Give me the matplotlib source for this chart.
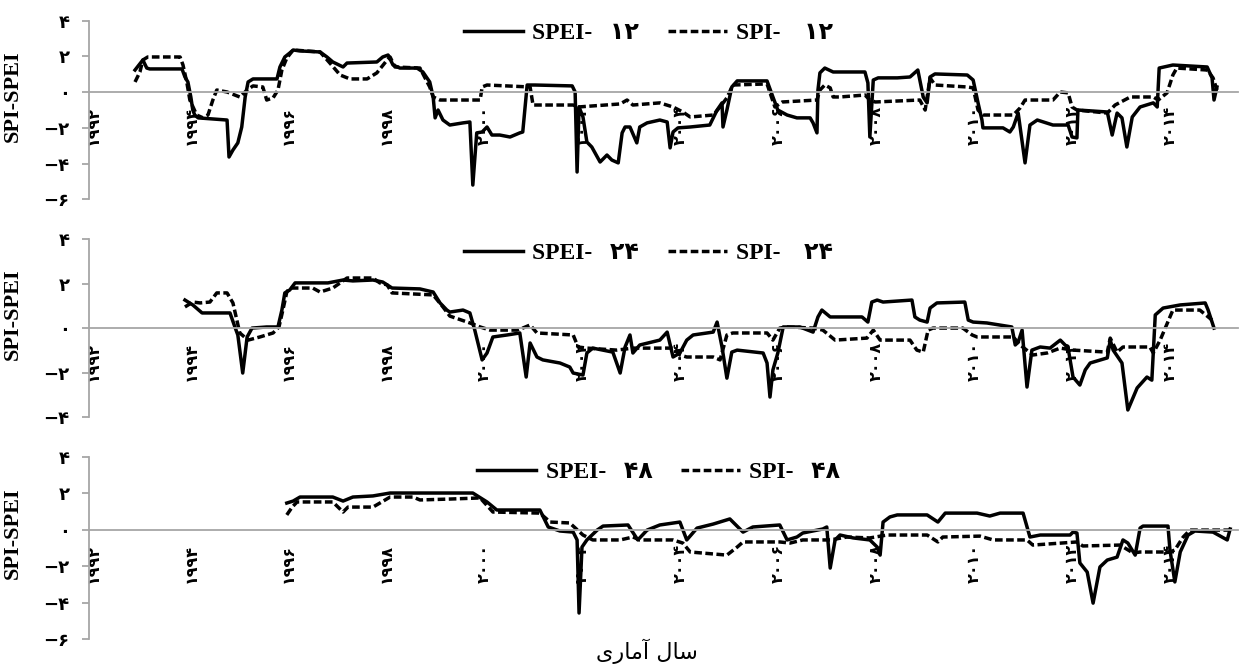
import matplotlib
matplotlib.use("Agg")
from matplotlib import pyplot as plt

# ---- panel 1 : 12-month scale ----
yr_spei12 = [1992.86, 1993.02, 1993.10, 1993.16, 1993.82, 1993.88, 1993.94, 1994.00, 1994.04, 1994.08,
             1994.15, 1994.74, 1994.78, 1994.86, 1994.96, 1995.04, 1995.11, 1995.17, 1995.27, 1995.76,
             1995.82, 1995.92, 1996.02, 1996.09, 1996.23, 1996.64, 1996.78, 1996.90, 1997.11, 1997.19,
             1997.80, 1997.92, 1998.03, 1998.13, 1998.27, 1998.62, 1998.74, 1998.88, 1998.95, 1998.99,
             1999.05, 1999.15, 1999.29, 1999.56, 1999.70, 1999.76, 1999.84, 1999.95, 2000.05, 2000.15,
             2000.31, 2000.52, 2000.72, 2000.78, 2000.87, 2001.03, 2001.79, 2001.85, 2001.89, 2001.93,
             2002.01, 2002.09, 2002.19, 2002.36, 2002.50, 2002.60, 2002.73, 2002.81, 2002.87, 2002.97,
             2003.11, 2003.17, 2003.32, 2003.58, 2003.73, 2003.79, 2003.85, 2003.95, 2004.20, 2004.60,
             2004.75, 2004.85, 2004.87, 2004.95, 2005.05, 2005.16, 2005.77, 2005.89, 2005.99, 2006.18,
             2006.38, 2006.65, 2006.71, 2006.79, 2006.81, 2006.85, 2006.95, 2007.12, 2007.77, 2007.83,
             2007.87, 2007.94, 2008.04, 2008.43, 2008.69, 2008.85, 2008.96, 2009.04, 2009.10, 2009.20,
             2009.86, 2009.98, 2010.08, 2010.16, 2010.18, 2010.59, 2010.73, 2010.80, 2010.90, 2011.04,
             2011.14, 2011.29, 2011.61, 2011.92, 2012.00, 2012.10, 2012.12, 2012.72, 2012.82, 2012.92,
             2013.02, 2013.12, 2013.23, 2013.39, 2013.66, 2013.74, 2013.78, 2014.06, 2014.76, 2014.86,
             2014.90, 2014.96]
spei12 = [1.24, 1.80, 1.35, 1.30, 1.30, 0.85, 0.57, -0.27, -1.00, -1.28,
          -1.44, -1.56, -3.63, -3.24, -2.84, -1.95, -0.27, 0.57, 0.74, 0.74,
          1.41, 1.97, 2.19, 2.36, 2.31, 2.25, 1.97, 1.69, 1.41, 1.63,
          1.69, 1.97, 2.08, 1.52, 1.35, 1.35, 1.13, 0.57, -0.27, -1.44,
          -1.00, -1.56, -1.84, -1.72, -1.67, -5.20, -2.28, -2.23, -1.95, -2.40,
          -2.40, -2.51, -2.28, -2.23, 0.40, 0.40, 0.35, 0.01, -4.47, -0.83,
          -1.39, -2.79, -3.07, -3.91, -3.52, -3.80, -3.96, -2.28, -1.95, -1.95,
          -2.84, -1.95, -1.72, -1.56, -1.67, -3.12, -2.23, -2.00, -1.95, -1.84,
          -1.00, -0.60, -1.95, -1.00, 0.29, 0.63, 0.63, -0.27, -1.00, -1.28,
          -1.44, -1.44, -1.72, -2.28, 0.12, 1.08, 1.35, 1.13, 1.13, 0.52,
          -2.51, 0.68, 0.80, 0.80, 0.85, 1.24, -0.27, -0.60, 0.85, 1.02,
          0.96, 0.68, -0.60, -1.56, -2.00, -2.00, -2.23, -1.95, -1.17, -3.96,
          -1.84, -1.56, -1.84, -1.84, -2.51, -2.56, -1.00, -1.11, -2.40, -1.17,
          -1.44, -3.07, -1.39, -0.83, -0.60, -0.83, 1.35, 1.52, 1.41, 0.80,
          -0.44, 0.29]

yr_spi12 = [1992.86, 1992.96, 1993.02, 1993.12, 1993.78, 1993.84, 1993.92, 1993.98, 1994.12, 1994.25,
            1994.35, 1994.45, 1994.53, 1994.74, 1995.00, 1995.15, 1995.27, 1995.47, 1995.55, 1995.68,
            1995.78, 1995.86, 1995.96, 1996.09, 1996.64, 1996.84, 1997.05, 1997.25, 1997.60, 1997.80,
            1998.01, 1998.07, 1998.17, 1998.68, 1998.88, 1998.95, 1999.09, 1999.91, 1999.95, 2000.05,
            2000.93, 2000.99, 2001.81, 2001.91, 2002.77, 2002.91, 2003.03, 2003.58, 2003.85, 2004.05,
            2004.20, 2004.67, 2004.81, 2004.95, 2005.07, 2005.77, 2005.93, 2006.08, 2006.79, 2006.85,
            2006.95, 2007.06, 2007.12, 2007.26, 2007.77, 2007.87, 2007.98, 2008.89, 2009.00, 2009.10,
            2009.20, 2009.86, 2009.98, 2010.08, 2010.18, 2010.80, 2010.94, 2011.04, 2011.61, 2011.76,
            2011.92, 2012.00, 2012.10, 2012.72, 2012.88, 2013.19, 2013.66, 2013.76, 2013.94, 2014.06,
            2014.14, 2014.76, 2014.88, 2014.96]
spi12 = [0.57, 1.13, 1.80, 1.97, 1.97, 1.52, 0.52, -0.44, -1.28, -1.44,
         -1.28, -0.44, 0.12, 0.01, -0.27, 0.12, 0.35, 0.29, -0.44, -0.32,
         0.12, 1.24, 1.91, 2.36, 2.25, 1.63, 0.96, 0.74, 0.74, 1.08,
         1.80, 1.97, 1.41, 1.35, 0.29, -0.27, -0.44, -0.44, 0.29, 0.40,
         0.29, -0.72, -0.72, -0.83, -0.66, -0.44, -0.72, -0.60, -0.83, -1.11,
         -1.39, -1.28, -0.83, -0.32, 0.40, 0.46, -0.83, -0.55, -0.44, 0.12,
         0.40, 0.24, -0.27, -0.27, -0.16, -0.44, -0.55, -0.44, -1.00, 0.80,
         0.40, 0.29, 0.24, -1.00, -1.28, -1.28, -0.88, -0.44, -0.44, 0.01,
         -0.04, -0.83, -1.00, -1.17, -0.72, -0.27, -0.27, -0.44, -0.04, 0.96,
         1.35, 1.24, 0.80, 0.12]

# ---- panel 2 : 24-month scale ----
yr_spei24 = [1993.88, 1994.04, 1994.23, 1994.80, 1994.90, 1994.96, 1995.06, 1995.15, 1995.25, 1995.55,
             1995.78, 1995.86, 1995.92, 1996.02, 1996.13, 1996.80, 1997.11, 1997.31, 1997.72, 1997.92,
             1998.11, 1998.68, 1998.95, 1999.09, 1999.23, 1999.29, 1999.56, 1999.70, 1999.80, 1999.95,
             2000.05, 2000.17, 2000.46, 2000.72, 2000.85, 2000.93, 2001.07, 2001.19, 2001.54, 2001.74,
             2001.81, 2002.01, 2002.09, 2002.21, 2002.62, 2002.77, 2002.87, 2002.97, 2003.03, 2003.17,
             2003.58, 2003.73, 2003.85, 2003.99, 2004.13, 2004.26, 2004.67, 2004.75, 2004.85, 2004.95,
             2005.05, 2005.16, 2005.69, 2005.77, 2005.83, 2005.89, 2005.99, 2006.10, 2006.44, 2006.71,
             2006.81, 2006.89, 2007.06, 2007.71, 2007.83, 2007.91, 2008.02, 2008.14, 2008.73, 2008.79,
             2008.89, 2009.04, 2009.10, 2009.24, 2009.81, 2009.88, 2009.98, 2010.26, 2010.77, 2010.84,
             2010.90, 2010.98, 2011.08, 2011.18, 2011.35, 2011.55, 2011.76, 2011.92, 2012.02, 2012.16,
             2012.27, 2012.37, 2012.72, 2012.78, 2012.84, 2013.02, 2013.14, 2013.33, 2013.53, 2013.63,
             2013.70, 2013.86, 2014.21, 2014.72, 2014.78, 2014.90]
spei24 = [1.27, 1.05, 0.69, 0.69, 0.06, -0.30, -2.01, -0.39, 0.01, 0.06,
          0.06, 0.82, 1.59, 1.72, 2.04, 2.04, 2.17, 2.13, 2.17, 2.08,
          1.81, 1.77, 1.63, 1.14, 0.82, 0.73, 0.82, 0.69, -0.08, -1.42,
          -1.11, -0.39, -0.30, -0.21, -2.19, -0.66, -1.29, -1.42, -1.56, -1.74,
          -2.01, -2.10, -1.11, -0.89, -1.07, -2.01, -0.84, -0.30, -1.11, -0.75,
          -0.53, -0.17, -1.29, -1.11, -0.53, -0.30, -0.17, 0.28, -0.84, -2.24,
          -1.07, -0.98, -1.11, -1.56, -3.09, -1.87, -1.11, 0.06, 0.06, -0.17,
          0.51, 0.82, 0.51, 0.51, 0.28, 1.18, 1.27, 1.18, 1.27, 0.51,
          0.37, 0.28, 0.91, 1.14, 1.18, 0.37, 0.28, 0.24, 0.06, -0.75,
          -0.62, -0.08, -2.64, -0.98, -0.84, -0.89, -0.53, -0.89, -2.19, -2.55,
          -1.87, -1.56, -1.33, -0.53, -0.98, -1.56, -3.67, -2.68, -2.19, -2.33,
          0.60, 0.91, 1.05, 1.14, 0.82, 0.01]

yr_spi24 = [1993.88, 1994.04, 1994.19, 1994.39, 1994.53, 1994.74, 1994.86, 1994.94, 1995.00, 1995.17,
            1995.41, 1995.68, 1995.80, 1995.88, 1995.96, 1996.02, 1996.49, 1996.64, 1996.90, 1997.05,
            1997.19, 1997.72, 1997.86, 1998.01, 1998.11, 1998.95, 1999.15, 1999.29, 1999.70, 1999.91,
            2000.11, 2000.66, 2000.78, 2000.93, 2001.07, 2001.81, 2001.91, 2002.09, 2002.70, 2003.03,
            2003.85, 2003.99, 2004.13, 2004.67, 2004.81, 2004.95, 2005.07, 2005.77, 2005.89, 2006.03,
            2006.18, 2006.71, 2006.91, 2007.16, 2007.81, 2007.94, 2008.08, 2008.69, 2008.83, 2008.96,
            2009.06, 2009.16, 2009.77, 2009.96, 2010.06, 2010.80, 2010.94, 2011.20, 2011.49, 2011.76,
            2012.02, 2012.72, 2012.78, 2012.92, 2013.04, 2013.59, 2013.66, 2013.80, 2014.00, 2014.06,
            2014.61, 2014.86]
spi24 = [0.96, 1.18, 1.14, 1.18, 1.59, 1.59, 1.14, 0.37, -0.21, -0.53,
         -0.39, -0.21, 0.06, 0.82, 1.63, 1.81, 1.81, 1.63, 1.81, 2.04,
         2.26, 2.26, 2.04, 1.95, 1.59, 1.50, 0.96, 0.55, 0.24, 0.06,
         -0.08, -0.08, 0.01, 0.15, -0.21, -0.30, -0.84, -0.89, -0.98, -0.89,
         -0.89, -1.20, -1.29, -1.29, -1.42, -0.30, -0.21, -0.21, -0.53, 0.01,
         0.06, 0.01, -0.08, -0.53, -0.44, -0.08, -0.53, -0.53, -0.98, -1.07,
         -0.08, 0.01, 0.01, -0.30, -0.39, -0.39, -0.75, -1.20, -1.11, -0.89,
         -0.98, -1.07, -0.44, -1.07, -0.84, -0.84, -1.11, -0.53, 0.51, 0.82,
         0.82, 0.37]

# ---- panel 3 : 48-month scale ----
yr_spei48 = [1995.96, 1996.09, 1996.23, 1996.90, 1997.11, 1997.31, 1997.72, 1998.07, 1998.68, 1999.76,
             2000.05, 2000.25, 2001.13, 2001.30, 2001.54, 2001.81, 2001.89, 2001.93, 2001.99, 2002.09,
             2002.30, 2002.42, 2002.93, 2003.13, 2003.32, 2003.58, 2003.99, 2004.13, 2004.34, 2004.67,
             2005.01, 2005.28, 2005.48, 2006.03, 2006.18, 2006.38, 2006.50, 2006.91, 2006.99, 2007.06,
             2007.16, 2007.26, 2007.53, 2007.87, 2008.02, 2008.08, 2008.14, 2008.28, 2008.43, 2009.04,
             2009.26, 2009.41, 2010.06, 2010.32, 2010.53, 2011.00, 2011.14, 2011.35, 2011.96, 2012.02,
             2012.10, 2012.16, 2012.31, 2012.43, 2012.57, 2012.72, 2012.92, 2013.04, 2013.14, 2013.29,
             2013.39, 2013.45, 2013.96, 2014.00, 2014.10, 2014.21, 2014.37, 2014.51, 2014.88, 2015.17,
             2015.23]
spei48 = [1.46, 1.57, 1.79, 1.79, 1.57, 1.79, 1.85, 2.01, 2.01, 2.01,
          1.52, 1.08, 1.08, 0.15, -0.07, -0.13, -0.56, -4.56, -0.95, -0.56,
          -0.02, 0.20, 0.26, -0.56, -0.02, 0.26, 0.42, -0.56, 0.09, 0.31,
          0.59, -0.13, 0.15, 0.26, -0.56, -0.40, -0.18, 0.04, 0.15, -2.10,
          -0.56, -0.29, -0.45, -0.56, -0.95, -1.39, 0.42, 0.70, 0.81, 0.81,
          0.42, 0.91, 0.91, 0.75, 0.91, 0.91, -0.40, -0.29, -0.29, -0.13,
          -0.18, -1.82, -2.32, -4.02, -2.04, -1.66, -1.50, -0.56, -0.73, -1.39,
          0.09, 0.20, 0.20, -1.11, -2.86, -1.22, -0.29, -0.07, -0.13, -0.56,
          0.04]

yr_spi48 = [1995.96, 1996.07, 1996.17, 1996.90, 1997.11, 1997.21, 1997.72, 1997.90, 1998.07, 1998.54,
            1998.68, 1999.29, 1999.91, 2000.17, 2001.13, 2001.34, 2001.74, 2002.01, 2002.21, 2002.77,
            2003.03, 2003.17, 2003.85, 2004.05, 2004.20, 2004.95, 2005.16, 2005.28, 2006.03, 2006.24,
            2006.50, 2007.06, 2007.40, 2007.87, 2008.22, 2009.04, 2009.26, 2009.36, 2010.12, 2010.39,
            2011.08, 2011.20, 2012.10, 2012.22, 2012.98, 2013.25, 2013.39, 2014.00, 2014.10, 2014.27,
            2014.41, 2015.02, 2015.23]
spi48 = [0.81, 1.24, 1.52, 1.52, 0.97, 1.24, 1.24, 1.52, 1.79, 1.79,
         1.63, 1.68, 1.74, 0.97, 0.91, 0.42, 0.37, -0.29, -0.56, -0.56,
         -0.40, -0.56, -0.56, -0.73, -1.22, -1.39, -0.95, -0.67, -0.67, -0.73,
         -0.56, -0.56, -0.40, -0.45, -0.29, -0.29, -0.67, -0.40, -0.35, -0.56,
         -0.56, -0.84, -0.67, -0.89, -0.84, -1.28, -1.22, -1.22, -1.11, -0.40,
         -0.02, -0.02, -0.02]

year_ticks = [1992, 1994, 1996, 1998, 2000, 2002, 2004, 2006, 2008, 2010, 2012, 2014]
year_labels = ["۱۹۹۲", "۱۹۹۴", "۱۹۹۶", "۱۹۹۸", "۲۰۰۰", "۲۰۰۲",
               "۲۰۰۴", "۲۰۰۶", "۲۰۰۸", "۲۰۱۰", "۲۰۱۲", "۲۰۱۴"]
yticks_a = [4, 2, 0, -2, -4, -6]
ylabels_a = ["۴", "۲", "۰", "−۲", "−۴", "−۶"]
yticks_b = [4, 2, 0, -2, -4]
ylabels_b = ["۴", "۲", "۰", "−۲", "−۴"]

# "سال آماری" written with presentation forms, visual order (no shaping in matplotlib)
xtitle = "\uFEEF\uFEAD\uFE8E\uFEE3\uFE81 \uFEDD\uFE8E\uFEB3"

GRAY = "#a6a6a6"
SERIF = ["Liberation Serif", "DejaVu Sans"]


def draw_panel(ax, xa, ya, xb, yb, lab_a, lab_b, ylim, yt, ytl, leg_xy):
    ax.plot(xa, ya, color="black", lw=2.5, label=lab_a)
    ax.plot(xb, yb, color="black", lw=2.5, linestyle=(0, (2.2, 1.0)), label=lab_b)
    ax.set_xlim(1991.92, 2015.39)
    ax.set_ylim(*ylim)
    for s in ("top", "right"):
        ax.spines[s].set_visible(False)
    ax.spines["bottom"].set_position(("data", 0))
    ax.spines["bottom"].set_color(GRAY)
    ax.spines["bottom"].set_linewidth(1.3)
    ax.spines["left"].set_color(GRAY)
    ax.spines["left"].set_linewidth(1.3)

    ax.set_xticks(year_ticks)
    ax.set_xticklabels(year_labels, rotation=90, fontsize=11.5, fontweight="bold",
                       family="DejaVu Sans")
    ax.tick_params(axis="x", length=0, pad=10)
    ax.set_yticks(yt)
    ax.set_yticklabels(ytl, fontsize=13, fontweight="bold", family="DejaVu Sans")
    ax.tick_params(axis="y", direction="out", length=5, width=1.3, color=GRAY, pad=9)

    ax.set_ylabel("SPI-SPEI", fontsize=16, fontweight="bold", family=SERIF)
    ax.yaxis.set_label_coords(-0.058, 0.58)

    ax.legend(loc="center", bbox_to_anchor=leg_xy, ncol=2, frameon=False,
              handlelength=2.5, handletextpad=0.4, columnspacing=1.2,
              prop=dict(family=SERIF, weight="bold", size=17))


fig = plt.figure(figsize=(12.44, 6.66), dpi=100)
left, width = 89 / 1244, 1149 / 1244

ax1 = fig.add_axes([left, 0.7007, width, 0.2682])
draw_panel(ax1, yr_spei12, spei12, yr_spi12, spi12,
           "SPEI-   ۱۲", "SPI-    ۱۲", (-6, 4), yticks_a, ylabels_a, (0.487, 0.931))

ax2 = fig.add_axes([left, 0.3734, width, 0.2673])
draw_panel(ax2, yr_spei24, spei24, yr_spi24, spi24,
           "SPEI-   ۲۴", "SPI-    ۲۴", (-4, 4), yticks_b, ylabels_b, (0.487, 0.923))

ax3 = fig.add_axes([left, 0.0401, width, 0.2742])
draw_panel(ax3, yr_spei48, spei48, yr_spi48, spi48,
           "SPEI-   ۴۸", "SPI-   ۴۸", (-6, 4), yticks_a, ylabels_a, (0.496, 0.916))

fig.text(647 / 1244, 1 - 651 / 666, xtitle, ha="center", va="center",
         fontsize=16, family="DejaVu Sans")

fig.savefig("out.png", dpi=100)
